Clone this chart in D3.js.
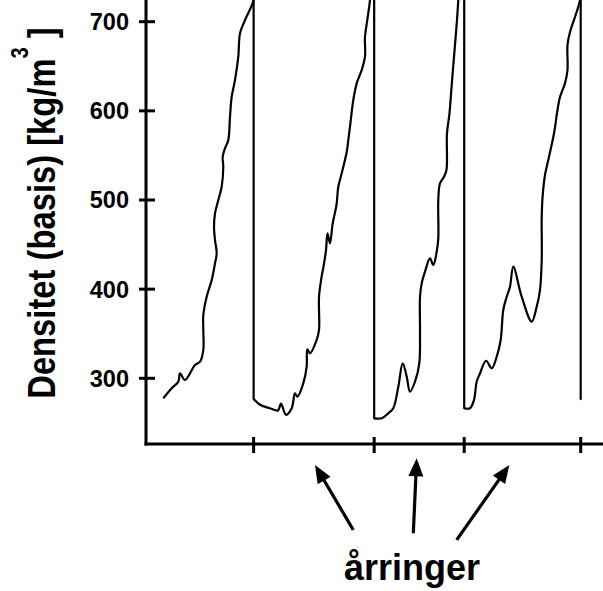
<!DOCTYPE html>
<html><head><meta charset="utf-8">
<script src="https://cdn.jsdelivr.net/npm/d3@7"></script>
<style>html,body{margin:0;padding:0;background:#fff;}svg{display:block;}</style>
</head><body>
<svg id="chart" width="603" height="591"></svg>
<script>
// ---- data (x: position in mm, y: basic density kg/m3) ----
const ring1X = [0.379,0.562,0.707,0.744,0.853,1.072,1.182,1.254,1.254,1.254,1.328,1.438,1.510,1.547,1.510,1.488,1.510,1.582,1.656,1.691,1.678,1.729,1.801,1.838,1.875,1.947,2.020,2.057,2.166,2.355,2.355];
const ring1Y = [277.6,288.8,296.2,305.6,298.1,314.9,318.6,331.7,354.2,371.0,391.5,410.2,429.0,440.2,455.1,470.0,485.0,500.0,514.9,537.3,548.5,558.0,567.3,593.4,615.8,634.5,660.7,686.9,701.8,724.3,740];
const ring2X = [2.355,2.495,2.713,2.888,2.954,3.063,3.188,3.260,3.311,3.442,3.516,3.530,3.589,3.735,3.786,3.786,3.845,3.884,3.939,3.972,4.026,4.085,4.168,4.208,4.282,4.392,4.427,4.464,4.536,4.611,4.720,4.792,4.792,4.842,4.902,4.993];
const ring2Y = [276.7,270.4,266.4,264.0,271.5,259.1,266.4,283.2,279.4,294.4,313.0,332.5,328.0,343.0,354.2,391.5,414.7,425.2,443.9,462.6,451.4,473.8,494.4,514.9,529.9,553.8,567.3,582.2,612.1,630.8,645.8,660.7,683.1,701.8,724.3,780];
const ring3X = [4.993,5.158,5.302,5.411,5.521,5.617,5.705,5.777,5.886,5.980,5.996,5.996,6.033,6.105,6.214,6.287,6.361,6.396,6.396,6.433,6.521,6.575,6.586,6.641,6.689,6.761,6.805,6.834,6.963];
const ring3Y = [255.1,255.1,260.7,266.4,290.6,316.8,301.8,285.0,296.2,316.8,350.5,391.5,406.5,419.6,434.6,427.1,442.0,457.0,500.0,518.7,526.1,533.6,574.8,597.2,628.9,673.8,701.8,724.3,820];
const ring4X = [6.963,7.090,7.177,7.236,7.309,7.440,7.565,7.674,7.761,7.818,7.893,7.965,8.037,8.221,8.440,8.549,8.621,8.659,8.659,8.681,8.731,8.818,8.928,9.004,9.059,9.168,9.223,9.223,9.278,9.387,9.497,9.512];
const ring4Y = [266.4,266.4,275.7,296.2,305.6,319.7,311.2,324.2,343.0,376.6,391.5,402.7,425.2,391.5,363.5,380.3,399.0,432.7,481.2,505.6,528.0,548.2,574.8,600.9,615.5,630.8,645.8,673.8,688.4,705.3,724.3,740];
// year-ring boundaries: end-of-ring drops and x ticks
const boundaryX = [2.355, 4.993, 6.963, 9.512];
const boundaryTop = [740, 780, 820, 740];
const boundaryBottom = [276.7, 255.1, 266.4, 276.7];
const yTicks = [300, 400, 500, 600, 700];
// arrows pointing to the rings (data units)
const arrowTailX = [4.536, 5.849, 6.799];
const arrowTailY = [129.9, 126.2, 118.7];
const arrowTipX  = [3.698, 5.923, 7.950];
const arrowTipY  = [202.8, 210.3, 202.8];
const yTitle = "Densitet (basis) [kg/m";
const xLabel = "årringer";

// ---- drawing ----
const svg = d3.select("#chart");
const x = d3.scaleLinear().domain([0, 10]).range([146, 603]);
const y = d3.scaleLinear().domain([300, 700]).range([378.3, 21.7]);
const yBottom = 444;
const font = "'Liberation Sans', Arial, Helvetica, sans-serif";

svg.append("clipPath").attr("id", "clip").append("rect")
  .attr("x", 146).attr("y", 0).attr("width", 457).attr("height", yBottom);

const line = d3.line().x(d => x(d[0])).y(d => y(d[1])).curve(d3.curveCatmullRom.alpha(0.5));
const rings = [[ring1X, ring1Y], [ring2X, ring2Y], [ring3X, ring3Y], [ring4X, ring4Y]];
const plot = svg.append("g").attr("clip-path", "url(#clip)");
rings.forEach(([xs, ys]) => {
  plot.append("path").datum(xs.map((v, i) => [v, ys[i]]))
    .attr("d", line).attr("fill", "none").attr("stroke", "#000")
    .attr("stroke-width", 2.2).attr("stroke-linejoin", "round");
});
plot.selectAll(".drop").data(boundaryX).enter().append("line")
  .attr("x1", d => x(d)).attr("x2", d => x(d))
  .attr("y1", (d, i) => y(boundaryTop[i])).attr("y2", (d, i) => y(boundaryBottom[i]))
  .attr("stroke", "#000").attr("stroke-width", 2.2).attr("stroke-linecap", "round");

// axes
const yAxisG = svg.append("g");
yAxisG.append("line").attr("x1", 146).attr("x2", 146).attr("y1", 0).attr("y2", yBottom + 1.5)
  .attr("stroke", "#000").attr("stroke-width", 3);
yAxisG.selectAll(".yt").data(yTicks).enter().append("line")
  .attr("x1", 139).attr("x2", 155).attr("y1", d => y(d)).attr("y2", d => y(d))
  .attr("stroke", "#000").attr("stroke-width", 3);
yAxisG.selectAll(".yl").data(yTicks).enter().append("text")
  .attr("x", 129).attr("y", d => y(d)).attr("dy", "0.36em")
  .attr("text-anchor", "end").attr("font-family", font).attr("font-weight", "bold")
  .attr("font-size", 23.5).text(d => d);

const xAxisG = svg.append("g");
xAxisG.append("line").attr("x1", 144.5).attr("x2", 603).attr("y1", yBottom).attr("y2", yBottom)
  .attr("stroke", "#000").attr("stroke-width", 3);
xAxisG.selectAll(".xt").data(boundaryX).enter().append("line")
  .attr("x1", d => x(d)).attr("x2", d => x(d)).attr("y1", yBottom - 7).attr("y2", yBottom + 9)
  .attr("stroke", "#000").attr("stroke-width", 3);

// y title (narrow bold face emulated by horizontal scaling)
const t = svg.append("text")
  .attr("transform", "translate(55,213) rotate(-90) scale(0.84,1)")
  .attr("text-anchor", "middle").attr("font-family", font).attr("font-weight", "bold")
  .attr("font-size", 39);
t.append("tspan").text(yTitle);
t.append("tspan").attr("font-size", 24).attr("dy", -27).text("3");
t.append("tspan").attr("dy", 27).text(" ]");

// arrows
const arrows = arrowTailX.map((v, i) => ({x1: x(v), y1: y(arrowTailY[i]), x2: x(arrowTipX[i]), y2: y(arrowTipY[i])}));
arrows.forEach(a => {
  const dx = a.x2 - a.x1, dy = a.y2 - a.y1, L = Math.hypot(dx, dy);
  const ux = dx / L, uy = dy / L, hl = 18, hw = 7.5;
  const bx = a.x2 - ux * hl, by = a.y2 - uy * hl;
  svg.append("line").attr("x1", a.x1).attr("y1", a.y1).attr("x2", bx + ux * 2).attr("y2", by + uy * 2)
    .attr("stroke", "#000").attr("stroke-width", 3.2);
  svg.append("polygon")
    .attr("points", [[a.x2, a.y2], [bx - uy * hw, by + ux * hw], [bx + uy * hw, by - ux * hw]].map(p => p.join(",")).join(" "))
    .attr("fill", "#000");
});

// x label
svg.append("text").attr("x", x(5.821)).attr("y", y(73.8))
  .attr("text-anchor", "middle").attr("font-family", font).attr("font-weight", "bold")
  .attr("font-size", 36).text(xLabel);
</script>
</body></html>
